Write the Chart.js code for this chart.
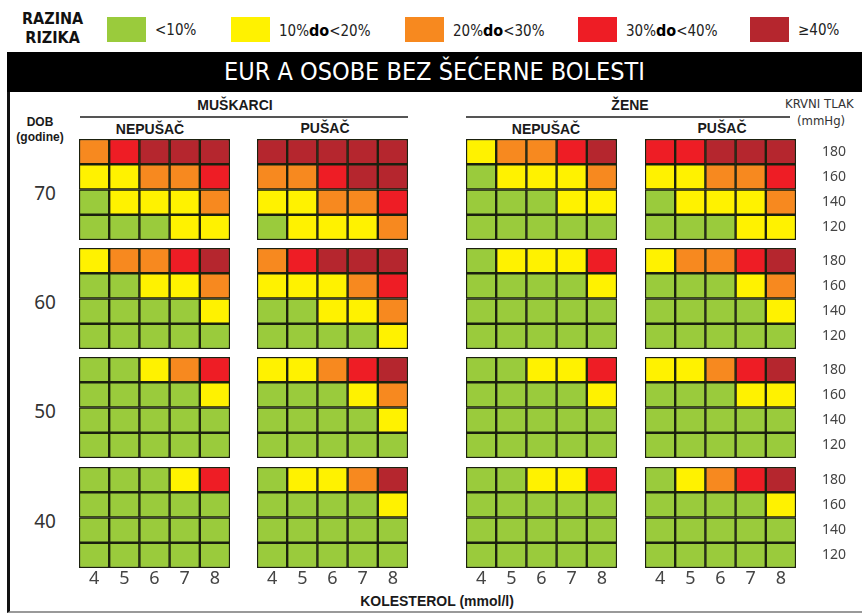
<!DOCTYPE html>
<html>
<head>
<meta charset="utf-8">
<script src="https://cdn.jsdelivr.net/npm/chart.js@4"></script>
<style>
  body { margin: 0; background: #fff; width: 862px; height: 615px; overflow: hidden; position: relative;
         font-family: "Liberation Sans Narrow", "DejaVu Sans Condensed", "Roboto", sans-serif; color: #111; }
  .abs { position: absolute; }
  .lbl { position: absolute; white-space: nowrap; }
  .swatch { position: absolute; top: 17px; width: 39px; height: 25px; }
  .legtxt { position: absolute; top: 21px; font-size: 15px; color: #222; }
  .legtxt b { font-size: 16px; color: #000; }
  .hdr { position: absolute; font-family: "Liberation Sans", Arial, sans-serif; font-weight: bold; font-size: 14px;
         transform: translateX(-50%); white-space: nowrap; color: #1a1a1a; }
  .age { position: absolute; font-family: "Noto Sans", sans-serif; font-size: 19px; color: #333; transform: translate(-50%, -50%); }
  .rule { position: absolute; height: 2px; background: #555; }
</style>
</head>
<body>
<!-- legend -->
<div class="lbl" style="left:22px;top:9px;font-weight:bold;font-size:16px;line-height:19px;text-align:center;">RAZINA<br>RIZIKA</div>
<div id="legend"></div>

<!-- frame and title -->
<div class="abs" style="left:7px;top:52px;width:860px;height:559px;border-left:3px solid #111;border-bottom:2px solid #999;"></div>
<div class="abs" style="left:7px;top:52px;width:855px;height:40px;background:#000;color:#fff;font-size:25px;line-height:40px;text-align:center;">
  EUR A OSOBE BEZ ŠEĆERNE BOLESTI
</div>

<div class="hdr" style="left:235px;top:97px;">MUŠKARCI</div>
<div class="rule" style="left:80px;top:116px;width:328px;"></div>
<div class="hdr" style="left:630px;top:97px;">ŽENE</div>
<div class="rule" style="left:466px;top:116px;width:324px;"></div>
<div class="hdr" style="left:150px;top:121px;">NEPUŠAČ</div>
<div class="hdr" style="left:325px;top:120px;">PUŠAČ</div>
<div class="hdr" style="left:546px;top:121px;">NEPUŠAČ</div>
<div class="hdr" style="left:722px;top:120px;">PUŠAČ</div>
<div class="hdr" style="left:40px;top:115px;font-size:12px;line-height:15px;text-align:center;">DOB<br>(godine)</div>
<div class="lbl" style="left:785px;top:96px;font-size:13px;color:#333;">KRVNI TLAK</div>
<div class="lbl" style="left:797px;top:113px;font-size:13px;color:#333;">(mmHg)</div>
<div class="hdr" style="left:437px;top:593px;font-size:14px;">KOLESTEROL (mmol/l)</div>

<div id="grids"></div>

<script>
// risk levels: 0 <10%, 1 10-20%, 2 20-30%, 3 30-40%, 4 >=40%
const riskLabels = ['<10%', '10%<b>do</b><20%', '20%<b>do</b><30%', '30%<b>do</b><40%', '≥40%'];
const riskColors = ['#9acb3c', '#fff200', '#f7891f', '#ee1d25', '#b5262e'];

const ages = [70, 60, 50, 40];
const cholesterol = [4, 5, 6, 7, 8];
const bloodPressure = [180, 160, 140, 120];

// each group: one grid per age (70,60,50,40), rows 180 -> 120, columns cholesterol 4 -> 8
const menNonSmoker = [
  [[2, 3, 4, 4, 4], [1, 1, 2, 2, 3], [0, 1, 1, 1, 2], [0, 0, 0, 1, 1]],
  [[1, 2, 2, 3, 4], [0, 0, 1, 1, 2], [0, 0, 0, 0, 1], [0, 0, 0, 0, 0]],
  [[0, 0, 1, 2, 3], [0, 0, 0, 0, 1], [0, 0, 0, 0, 0], [0, 0, 0, 0, 0]],
  [[0, 0, 0, 1, 3], [0, 0, 0, 0, 0], [0, 0, 0, 0, 0], [0, 0, 0, 0, 0]]
];
const menSmoker = [
  [[4, 4, 4, 4, 4], [2, 2, 3, 4, 4], [1, 1, 2, 2, 3], [0, 1, 1, 1, 2]],
  [[2, 3, 4, 4, 4], [1, 1, 1, 2, 3], [0, 0, 1, 1, 2], [0, 0, 0, 0, 1]],
  [[1, 1, 2, 3, 4], [0, 0, 0, 1, 2], [0, 0, 0, 0, 1], [0, 0, 0, 0, 0]],
  [[0, 1, 1, 2, 4], [0, 0, 0, 0, 1], [0, 0, 0, 0, 0], [0, 0, 0, 0, 0]]
];
const womenNonSmoker = [
  [[1, 2, 2, 3, 4], [0, 1, 1, 1, 2], [0, 0, 0, 1, 1], [0, 0, 0, 0, 0]],
  [[0, 1, 1, 1, 3], [0, 0, 0, 0, 1], [0, 0, 0, 0, 0], [0, 0, 0, 0, 0]],
  [[0, 0, 1, 1, 3], [0, 0, 0, 0, 1], [0, 0, 0, 0, 0], [0, 0, 0, 0, 0]],
  [[0, 0, 1, 1, 3], [0, 0, 0, 0, 0], [0, 0, 0, 0, 0], [0, 0, 0, 0, 0]]
];
const womenSmoker = [
  [[3, 3, 4, 4, 4], [1, 1, 2, 2, 3], [0, 1, 1, 1, 2], [0, 0, 0, 1, 1]],
  [[1, 2, 2, 3, 4], [0, 0, 0, 1, 2], [0, 0, 0, 0, 1], [0, 0, 0, 0, 0]],
  [[1, 1, 2, 3, 4], [0, 0, 0, 1, 1], [0, 0, 0, 0, 0], [0, 0, 0, 0, 0]],
  [[0, 1, 2, 3, 4], [0, 0, 0, 0, 1], [0, 0, 0, 0, 0], [0, 0, 0, 0, 0]]
];

const groups = [menNonSmoker, menSmoker, womenNonSmoker, womenSmoker];

// layout
const colX = [79, 257, 466, 645];
const rowY = [139, 248, 357, 467];
const W = 151, H = 101;
const xAxisH = 26, yAxisW = 50;
const legendX = [107, 231, 405, 578, 750];

// legend
const legend = document.getElementById('legend');
riskColors.forEach((c, i) => {
  legend.insertAdjacentHTML('beforeend',
    `<div class="swatch" style="left:${legendX[i]}px;background:${c}"></div>` +
    `<div class="legtxt" style="left:${legendX[i] + 48}px">${riskLabels[i]}</div>`);
});

// age labels
ages.forEach((a, i) => {
  document.body.insertAdjacentHTML('beforeend',
    `<div class="age" style="left:45px;top:${rowY[i] + H / 2 + 3}px">${a}</div>`);
});

const container = document.getElementById('grids');

groups.forEach((group, g) => {
  group.forEach((levels, a) => {
    const showX = a === ages.length - 1;
    const showY = g === groups.length - 1;
    const canvas = document.createElement('canvas');
    canvas.className = 'abs';
    canvas.width = W + (showY ? yAxisW : 0);
    canvas.height = H + (showX ? xAxisH : 0);
    canvas.style.left = colX[g] + 'px';
    canvas.style.top = rowY[a] + 'px';
    container.appendChild(canvas);

    // one stacked dataset per blood pressure row, bottom row first
    const datasets = bloodPressure.map((bp, r) => ({
      label: bp + ' mmHg',
      data: cholesterol.map(() => 1),
      backgroundColor: levels[r].map(l => riskColors[l]),
      borderColor: '#1b200e',
      borderWidth: 1.5,
      borderSkipped: false,
      barPercentage: 1,
      categoryPercentage: 1
    })).reverse();

    new Chart(canvas, {
      type: 'bar',
      data: { labels: cholesterol, datasets: datasets },
      options: {
        responsive: false,
        animation: false,
        layout: { padding: 0 },
        plugins: { legend: { display: false }, tooltip: { enabled: false } },
        scales: {
          x: {
            stacked: true,
            display: showX,
            grid: { display: false, drawTicks: false },
            border: { display: false },
            ticks: { font: { family: '"Noto Sans", sans-serif', size: 18 }, color: '#444', padding: 0 },
            afterFit: s => {
              s.height = showX ? xAxisH : 0;
              s.paddingLeft = s.paddingRight = 0;
            }
          },
          y: {
            stacked: true,
            position: 'right',
            min: 0,
            max: bloodPressure.length,
            display: showY,
            grid: { display: false, drawTicks: false },
            border: { display: false },
            afterBuildTicks: axis => {
              axis.ticks = bloodPressure.map((bp, i) => ({ value: bloodPressure.length - 0.5 - i }));
            },
            ticks: {
              autoSkip: false,
              crossAlign: 'far',
              font: { family: '"Noto Sans", sans-serif', size: 14 },
              color: '#444',
              padding: 0,
              callback: v => bloodPressure[bloodPressure.length - 1 - Math.floor(v)]
            },
            afterFit: s => {
              s.width = showY ? yAxisW : 0;
              s.paddingTop = s.paddingBottom = 0;
            }
          }
        }
      }
    });
  });
});
</script>
</body>
</html>
